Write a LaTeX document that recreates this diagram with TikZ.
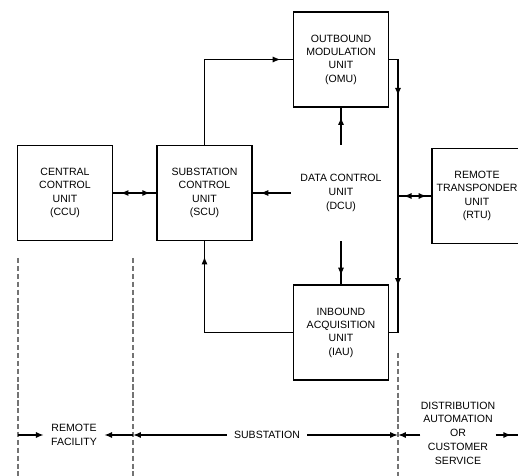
\documentclass[tikz,border=0pt]{standalone}
\usepackage{fontspec}
\setmainfont{Liberation Sans}
\usetikzlibrary{arrows.meta,decorations.markings}

\begin{document}
\begin{tikzpicture}[x=0.02cm, y=-0.02cm,
    >={Latex[length=4.5pt,width=3.5pt]},
    unit/.style={draw, line width=0.9pt, minimum width=1.9cm, minimum height=1.9cm,
        align=center, inner sep=0pt, font=\fontsize{6}{7.6}\selectfont},
    lbl/.style={align=center, inner xsep=4pt, font=\fontsize{6}{7.8}\selectfont},
    link/.style={line width=0.8pt},
    headat/.style={postaction={decorate},
        decoration={markings, mark=at position #1 with {\arrow{>}}}},
    twoway/.style={postaction={decorate},
        decoration={markings, mark=at position 0.17 with {\arrowreversed{>}},
            mark=at position 0.86 with {\arrow{>}}}},
    busline/.style={postaction={decorate},
        decoration={markings, mark=at position 0.155 with {\arrow{>}},
            mark=at position 0.81 with {\arrow{>}}}},
    boundary/.style={line width=0.6pt, black!55, dash pattern=on 3pt off 1.5pt}]
    % 1. 画布
    \useasboundingbox (0,0) rectangle (518,476);
    \clip (0,0) rectangle (518,476);

    % 2. 各单元方框
    \node[unit] (ccu) at (65,193) {CENTRAL\\CONTROL\\UNIT\\(CCU)};
    \node[unit] (scu) at (204.5,193) {SUBSTATION\\CONTROL\\UNIT\\(SCU)};
    \node[unit] (omu) at (341,59.5) {OUTBOUND\\MODULATION\\UNIT\\(OMU)};
    \node[unit] (iau) at (341,332.5) {INBOUND\\ACQUISITION\\UNIT\\(IAU)};
    \node[unit, minimum width=1.8cm] (rtu) at (477,196) {REMOTE\\TRANSPONDER\\UNIT\\(RTU)};
    \node[lbl, inner sep=0pt, minimum width=2cm, minimum height=1.92cm] (dcu) at (341,193)
        {DATA CONTROL\\UNIT\\(DCU)};

    % 3. 连线
    \coordinate (bus) at (398,332.5);
    \draw[link, twoway] (ccu.east) -- (scu.west);
    \draw[link, headat=0.93] (scu.north) |- (omu.west);
    \draw[link, busline] (omu.east) -| (bus) -- (iau.east);
    \draw[link, twoway] (bus |- rtu.west) -- (rtu.west);
    \draw[link, headat=0.75] (dcu.north) -- (omu.south);
    \draw[link, headat=0.8] (dcu.west) -- (scu.east);
    \draw[link, headat=0.8] (dcu.south) -- (iau.north);
    \draw[link, headat=0.915] (iau.west) -| (scu.south);

    % 4. 区域分界虚线
    \draw[boundary] (18,258) -- (18,476);
    \draw[boundary] (133,258) -- (133,476);
    \draw[boundary] (398,353) -- (398,476);

    % 5. 底部区域标注
    \coordinate (b1) at (18,435);
    \coordinate (b2) at (133,435);
    \coordinate (b3) at (398,435);
    \coordinate (b4) at (518,435);
    \node[lbl] (remote) at (74,435) {REMOTE\\FACILITY};
    \node[lbl] (subst) at (267,435) {SUBSTATION};
    \node[lbl, inner xsep=0pt] (dist) at (458,433)
        {DISTRIBUTION\\AUTOMATION\\OR\\CUSTOMER\\SERVICE};
    \draw[link, ->] (b1) -- (remote.west);
    \draw[link, ->] (b2) -- (remote.east);
    \draw[link, ->] (subst.west) -- (b2);
    \draw[link, ->] (subst.east) -- (b3);
    \draw[link, ->] (dist.west |- b3) -- (b3);
    \draw[link, headat=0.7] (dist.east |- b4) -- (b4);
\end{tikzpicture}
\end{document}
